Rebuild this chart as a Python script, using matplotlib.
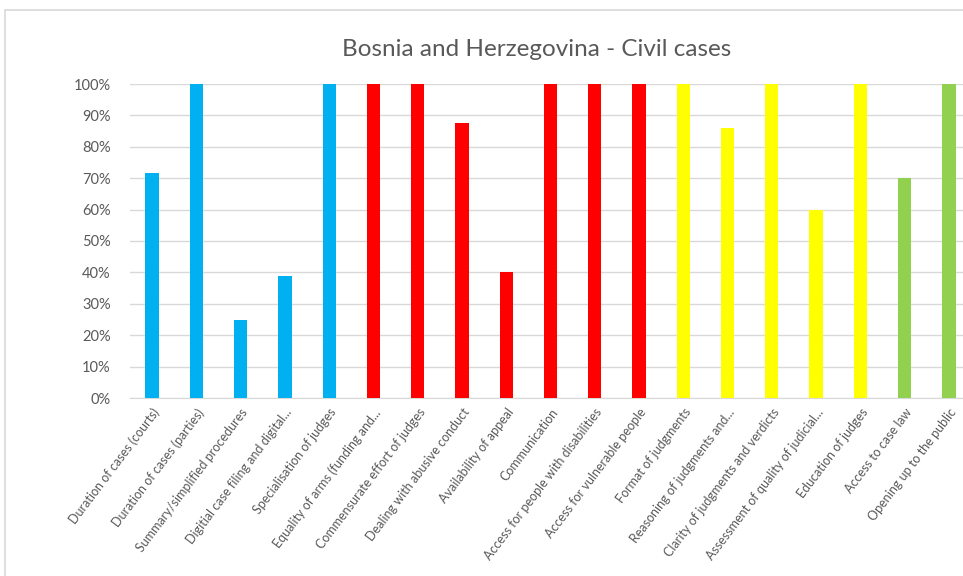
import matplotlib.pyplot as plt
from matplotlib.patches import Rectangle
from matplotlib.ticker import PercentFormatter

labels = [
    "Duration of cases (courts)", "Duration of cases (parties)",
    "Summary/simplified procedures", "Digitial case filing and digital...",
    "Specialisation of judges", "Equality of arms (funding and...",
    "Commensurate effort of judges", "Dealing with abusive conduct",
    "Availability of appeal", "Communication",
    "Access for people with disabilities", "Access for vulnerable people",
    "Format of judgments", "Reasoning of judgments and...",
    "Clarity of judgments and verdicts", "Assessment of quality of judicial...",
    "Education of judges", "Access to case law", "Opening up to the public",
]
values = [71.5, 100, 25, 39, 100, 100, 100, 87.5, 40, 100,
          100, 100, 100, 86, 100, 60, 100, 70, 100]
groups = ["blue"] * 5 + ["red"] * 7 + ["yellow"] * 5 + ["green"] * 2
palette = {"blue": "#00B0F0", "red": "#FF0000", "yellow": "#FFFF00", "green": "#92D050"}

plt.rcParams['font.family'] = ['Lato', 'DejaVu Sans']

fig = plt.figure(figsize=(9.63, 5.76), dpi=100)
ax = fig.add_axes([130 / 963, 1 - 398 / 576, 841 / 963, 314 / 576])

# outer chart frame
fig.patches.append(Rectangle((5 / 963, -0.1), 1.2, 1 - 10 / 576 + 0.1,
                             transform=fig.transFigure, fill=False,
                             edgecolor="#D9D9D9", linewidth=1.2))

x = list(range(len(labels)))
ax.bar(x, values, width=0.3, color=[palette[g] for g in groups], zorder=3)

ax.set_xlim(-0.5, len(labels) - 0.5)
ax.set_ylim(0, 100)
ax.set_yticks(range(0, 101, 10))
ax.yaxis.set_major_formatter(PercentFormatter(decimals=0))
ax.grid(axis='y', color="#D9D9D9", linewidth=1, zorder=0)
for s in ["top", "right", "left"]:
    ax.spines[s].set_visible(False)
ax.spines["bottom"].set_color("#D9D9D9")
ax.tick_params(axis='both', length=0, colors="#595959")
ax.tick_params(axis='y', labelsize=10.5, pad=14)
ax.set_xticks(x)
ax.set_xticklabels(labels, rotation=53, ha='right', rotation_mode='anchor',
                   fontsize=9, color="#595959")
ax.tick_params(axis='x', pad=6)

fig.text(537 / 963, 1 - 50 / 576, "Bosnia and Herzegovina - Civil cases",
         ha='center', va='center', fontsize=17.5, color="#595959")

fig.savefig("out.png", dpi=100)
